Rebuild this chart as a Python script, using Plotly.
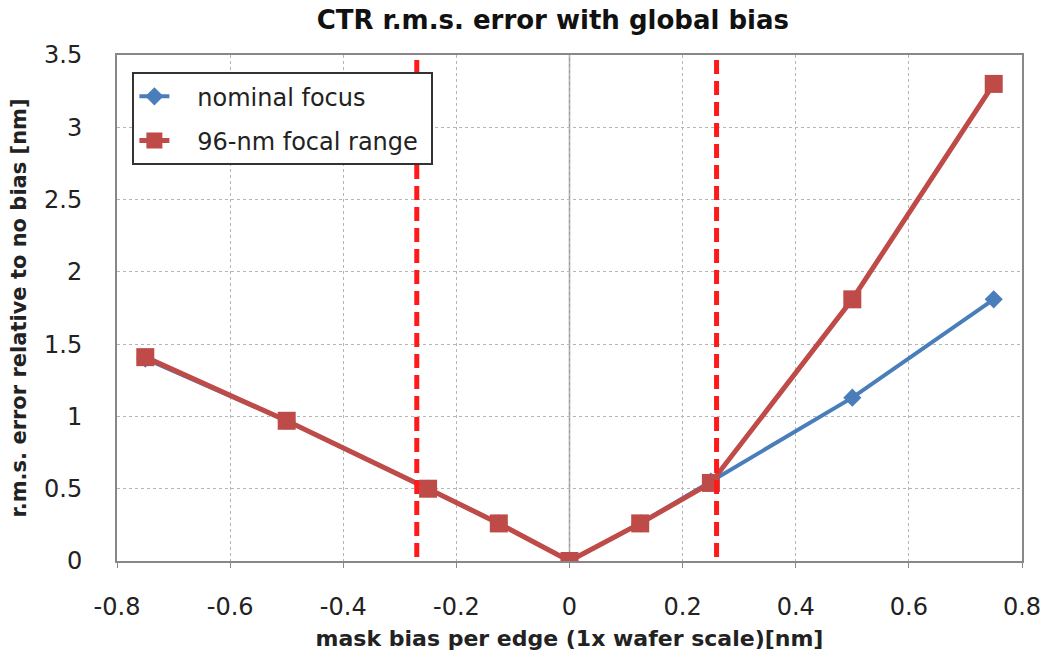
import plotly.graph_objects as go

bias = [-0.75, -0.5, -0.25, -0.125, 0, 0.125, 0.25, 0.5, 0.75]
nominal_focus = [1.40, 0.97, 0.50, 0.26, 0.0, 0.26, 0.55, 1.13, 1.81]
focal_range_96 = [1.41, 0.97, 0.50, 0.26, 0.0, 0.26, 0.54, 1.81, 3.30]
limit_lines = [-0.27, 0.26]
x_ticks = [-0.8, -0.6, -0.4, -0.2, 0, 0.2, 0.4, 0.6, 0.8]
x_ticktext = ["-0.8", "-0.6", "-0.4", "-0.2", "0", "0.2", "0.4", "0.6", "0.8"]
y_ticks = [0, 0.5, 1, 1.5, 2, 2.5, 3, 3.5]
y_ticktext = ["0", "0.5", "1", "1.5", "2", "2.5", "3", "3.5"]

FONT = "DejaVu Sans, sans-serif"
PAD = "\u00a0\u00a0\u00a0"

fig = go.Figure()
fig.add_trace(go.Scatter(
    x=bias, y=nominal_focus, mode="lines+markers", name=PAD + "nominal focus",
    legendgroup="a",
    line=dict(color="#4a7ebb", width=4),
    marker=dict(symbol="diamond", size=14, color="#4a7ebb"),
))
fig.add_trace(go.Scatter(
    x=bias, y=focal_range_96, mode="lines+markers", name=PAD + "96-nm focal range\u00a0",
    legendgroup="b",
    line=dict(color="#be4b48", width=5),
    marker=dict(symbol="square", size=18, color="#be4b48"),
))

for xv in limit_lines:
    fig.add_shape(type="line", xref="x", yref="paper", x0=xv, x1=xv, y0=0.008, y1=1,
                  line=dict(color="#ff1a1a", width=5, dash="14px,7px"), layer="above")

fig.add_shape(type="line", xref="x", yref="paper", x0=0, x1=0, y0=0, y1=1,
              line=dict(color="#9a9a9a", width=1.5), layer="below")

fig.update_layout(
    width=1049, height=651,
    margin=dict(l=117, r=27, t=55, b=90),
    paper_bgcolor="white", plot_bgcolor="white",
    font=dict(family=FONT, color="#222", size=20),
    title=dict(text="<b>CTR r.m.s. error with global bias</b>", x=0.527, xanchor="center",
               y=0.97, yanchor="middle", font=dict(size=26, family=FONT, color="#111")),
    showlegend=True,
    legend=dict(x=0.017, y=0.966, xanchor="left", yanchor="top",
                bgcolor="white", bordercolor="#333", borderwidth=2,
                font=dict(size=24, family=FONT, color="#222"),
                traceorder="grouped", tracegroupgap=10),
)
fig.update_xaxes(
    range=[-0.8, 0.8], tickvals=x_ticks, ticktext=x_ticktext,
    showgrid=True, gridcolor="#b5b5b5", griddash="dot", gridwidth=1,
    showline=True, linecolor="#888888", linewidth=2, mirror=True,
    ticks="outside", ticklen=5, tickcolor="#888888",
    ticklabelstandoff=18, automargin=False,
    zeroline=False, tickfont=dict(size=24),
    title=dict(text="<b>mask bias per edge (1x wafer scale)[nm]</b>", font=dict(size=22), standoff=12),
)
fig.update_yaxes(
    range=[0, 3.5], tickvals=y_ticks, ticktext=y_ticktext,
    showgrid=True, gridcolor="#b5b5b5", griddash="dot", gridwidth=1,
    showline=True, linecolor="#888888", linewidth=2, mirror=True,
    ticks="",
    ticklabelstandoff=28, automargin=False,
    zeroline=False, tickfont=dict(size=24),
    title=dict(text="<b>r.m.s. error relative to no bias [nm]</b>", font=dict(size=21), standoff=12),
)

fig.write_html("out.html")
